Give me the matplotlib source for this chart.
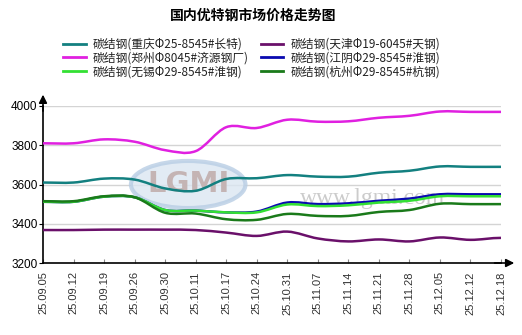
import numpy as np
import matplotlib
matplotlib.use("Agg")
import matplotlib.pyplot as plt
from matplotlib.path import Path
from matplotlib.patches import PathPatch, Ellipse

plt.rcParams['font.family'] = ['Noto Sans CJK SC', 'DejaVu Sans']

# data
dates = ['25.09.05', '25.09.12', '25.09.19', '25.09.26', '25.09.30', '25.10.11',
         '25.10.17', '25.10.24', '25.10.31', '25.11.07', '25.11.14', '25.11.21',
         '25.11.28', '25.12.05', '25.12.12', '25.12.18']

chongqing = [3610, 3610, 3630, 3625, 3580, 3568, 3628, 3632, 3648, 3640, 3640, 3660, 3670, 3692, 3690, 3690]
zhengzhou = [3810, 3810, 3830, 3818, 3775, 3770, 3892, 3888, 3930, 3920, 3922, 3940, 3950, 3972, 3970, 3970]
wuxi      = [3512, 3512, 3538, 3535, 3470, 3467, 3458, 3458, 3498, 3490, 3494, 3508, 3517, 3540, 3540, 3540]
tianjin   = [3368, 3368, 3370, 3370, 3370, 3368, 3355, 3338, 3360, 3325, 3310, 3320, 3310, 3330, 3318, 3328]
jiangyin  = [3512, 3512, 3538, 3535, 3470, 3467, 3458, 3462, 3508, 3500, 3504, 3517, 3528, 3550, 3550, 3550]
hangzhou  = [3515, 3515, 3540, 3535, 3456, 3452, 3423, 3420, 3450, 3440, 3440, 3460, 3470, 3502, 3500, 3500]

labels = ['碳结钢(重庆Φ25-8545#长特)', '碳结钢(郑州Φ8045#济源钢厂)', '碳结钢(无锡Φ29-8545#淮钢)',
          '碳结钢(天津Φ19-6045#天钢)', '碳结钢(江阴Φ29-8545#淮钢)', '碳结钢(杭州Φ29-8545#杭钢)']
colors = ['#138080', '#e020e0', '#33e033', '#6a106a', '#0a0ab0', '#1a7a1a']


def smooth(ax, xs, ys, color, lw):
    # catmull-rom style curve drawn as bezier segments
    n = len(xs)
    m = [0.0] + [(ys[i + 1] - ys[i - 1]) / 2.0 for i in range(1, n - 1)] + [0.0]
    verts = [(xs[0], ys[0])]
    codes = [Path.MOVETO]
    for i in range(n - 1):
        verts += [(xs[i] + 1 / 3, ys[i] + m[i] / 3),
                  (xs[i + 1] - 1 / 3, ys[i + 1] - m[i + 1] / 3),
                  (xs[i + 1], ys[i + 1])]
        codes += [Path.CURVE4] * 3
    ax.add_patch(PathPatch(Path(verts, codes), fill=False, edgecolor=color, lw=lw, zorder=3))


fig = plt.figure(figsize=(5.22, 3.35), dpi=100)
ax = fig.add_axes([43 / 522, 1 - 263 / 335, 458 / 522, 157 / 335])

x = np.arange(len(dates))
series = [chongqing, zhengzhou, wuxi, tianjin, jiangyin, hangzhou]
draw_order = [0, 1, 3, 4, 2, 5]
for k in draw_order:
    smooth(ax, x, series[k], colors[k], 1.8)

handles = [plt.Line2D([], [], color=c, lw=2) for c in colors]

ax.set_xlim(0, len(dates) - 1)
ax.set_ylim(3200, 4000)
ax.set_yticks([3200, 3400, 3600, 3800, 4000])
ax.set_xticks(x)
ax.set_xticklabels(dates, rotation=90, fontsize=8, color='#333333', family=['Liberation Sans', 'DejaVu Sans'])
for t in ax.get_yticklabels():
    t.set_fontsize(8.5)
    t.set_family(['Liberation Sans', 'DejaVu Sans'])
ax.tick_params(axis='x', direction='in', length=3, pad=6, color='#888888')
ax.tick_params(axis='y', direction='out', length=3, pad=1)
ax.grid(axis='y', color='#d4d4d4', lw=1)
ax.set_axisbelow(True)
for s in ['top', 'right']:
    ax.spines[s].set_visible(False)
ax.spines['left'].set_linewidth(1.2)
ax.spines['bottom'].set_linewidth(1.2)

# axis arrows
ax.annotate('', xy=(0, 1.09), xytext=(0, 0.95), xycoords='axes fraction',
            arrowprops=dict(arrowstyle='-|>', color='black', lw=1.2, mutation_scale=12), annotation_clip=False)
ax.annotate('', xy=(1.035, 0), xytext=(0.98, 0), xycoords='axes fraction',
            arrowprops=dict(arrowstyle='-|>', color='black', lw=1.2, mutation_scale=12), annotation_clip=False)

# watermark
ax.add_patch(Ellipse((0.317, 0.5), 0.25, 0.3, transform=ax.transAxes, facecolor='#dbe6f2',
                     edgecolor='#b8cde4', lw=3, alpha=0.8, zorder=1))
ax.text(0.317, 0.5, 'LGMI', transform=ax.transAxes, ha='center', va='center', fontsize=21,
        color='#c4b4b4', fontweight='bold', family=['DejaVu Sans'], zorder=1)
ax.text(0.72, 0.41, 'www.lgmi.com', transform=ax.transAxes, ha='center', va='center', fontsize=17,
        color='#cccccc', family=['Liberation Serif', 'DejaVu Serif'], zorder=1)

fig.text(0.485, 0.952, '国内优特钢市场价格走势图', ha='center', va='center', fontsize=10, fontweight='bold')

fig.legend(handles, labels, ncol=2, loc='center', bbox_to_anchor=(0.482, 0.827), frameon=False,
           fontsize=8.5, handlelength=1.9, handletextpad=0.6, columnspacing=1.0, labelspacing=0.05,
           labelcolor='#222222')

fig.savefig('out.png', dpi=100)
